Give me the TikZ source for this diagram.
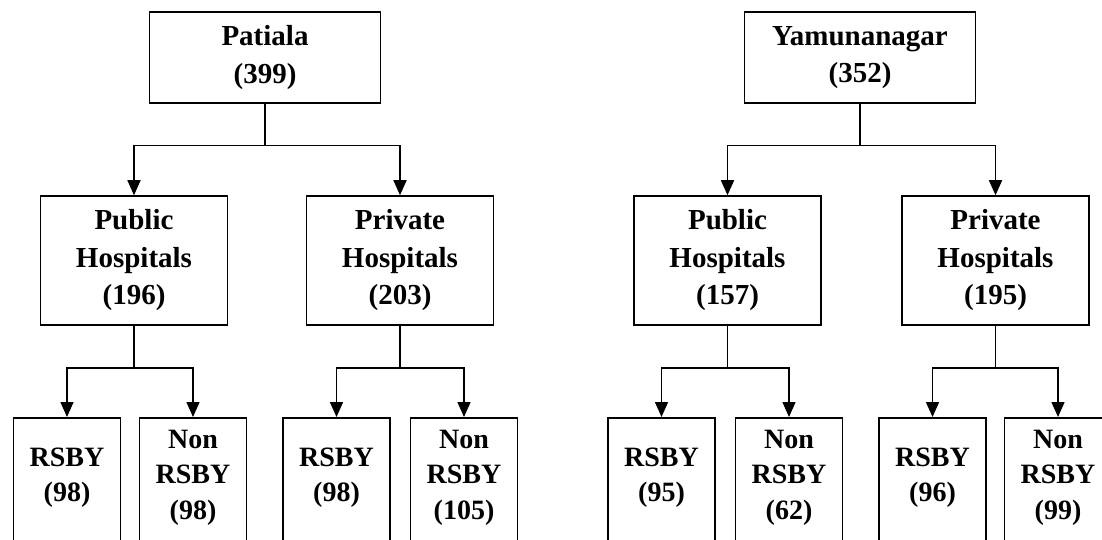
\documentclass[tikz,border=0pt]{standalone}
\usepackage{fontspec}
\setmainfont{Liberation Serif}
\usetikzlibrary{arrows.meta, positioning}

\tikzset{
    box/.style={draw, line width=1.5pt, align=center, font=\bfseries\fontsize{29}{37.5}\selectfont},
    district/.style={box, minimum width=231pt, minimum height=91pt},
    sector/.style={box, minimum width=187pt, minimum height=129pt},
    leaf/.style={draw, line width=1.5pt, minimum width=107pt, minimum height=160pt, anchor=north},
    leaftext/.style={align=center, font=\bfseries\fontsize{28}{35.5}\selectfont, yshift=20pt},
    link/.style={line width=1.5pt, -{Triangle[length=15pt, width=13pt]}}
}

\begin{document}
\begin{tikzpicture}[x=1pt, y=-1pt]
    \path[use as bounding box, clip] (0, 0) rectangle (1102, 540);

    \node[district] (pat) at (265, 57.5) {Patiala\\(399)};
    \node[district] (yam) at (860, 57.5) {Yamunanagar\\(352)};

    \node[sector] (patpub) at (134, 260.5) {Public\\Hospitals\\(196)};
    \node[sector] (patpri) at (400, 260.5) {Private\\Hospitals\\(203)};
    \node[sector] (yampub) at (727.5, 260.5) {Public\\Hospitals\\(157)};
    \node[sector] (yampri) at (995.5, 260.5) {Private\\Hospitals\\(195)};

    \node[leaf, label={[leaftext]center:{RSBY\\(98)}}] (patpubR) at (67, 417) {};
    \node[leaf, label={[leaftext]center:{Non\\RSBY\\(98)}}] (patpubN) at (193, 417) {};
    \node[leaf, label={[leaftext]center:{RSBY\\(98)}}] (patpriR) at (336.5, 417) {};
    \node[leaf, label={[leaftext]center:{Non\\RSBY\\(105)}}] (patpriN) at (464, 417) {};
    \node[leaf, label={[leaftext]center:{RSBY\\(95)}}] (yampubR) at (661.5, 417) {};
    \node[leaf, label={[leaftext]center:{Non\\RSBY\\(62)}}] (yampubN) at (789, 417) {};
    \node[leaf, label={[leaftext]center:{RSBY\\(96)}}] (yampriR) at (932.5, 417) {};
    \node[leaf, label={[leaftext]center:{Non\\RSBY\\(99)}}] (yampriN) at (1058, 417) {};

    \draw[link] (pat.south) -- ++(0, 42) -| (patpub.north);
    \draw[link] (pat.south) -- ++(0, 42) -| (patpri.north);
    \draw[link] (yam.south) -- ++(0, 42) -| (yampub.north);
    \draw[link] (yam.south) -- ++(0, 42) -| (yampri.north);

    \draw[link] (patpub.south) -- ++(0, 42) -| (patpubR.north);
    \draw[link] (patpub.south) -- ++(0, 42) -| (patpubN.north);
    \draw[link] (patpri.south) -- ++(0, 42) -| (patpriR.north);
    \draw[link] (patpri.south) -- ++(0, 42) -| (patpriN.north);
    \draw[link] (yampub.south) -- ++(0, 42) -| (yampubR.north);
    \draw[link] (yampub.south) -- ++(0, 42) -| (yampubN.north);
    \draw[link] (yampri.south) -- ++(0, 42) -| (yampriR.north);
    \draw[link] (yampri.south) -- ++(0, 42) -| (yampriN.north);
\end{tikzpicture}
\end{document}
